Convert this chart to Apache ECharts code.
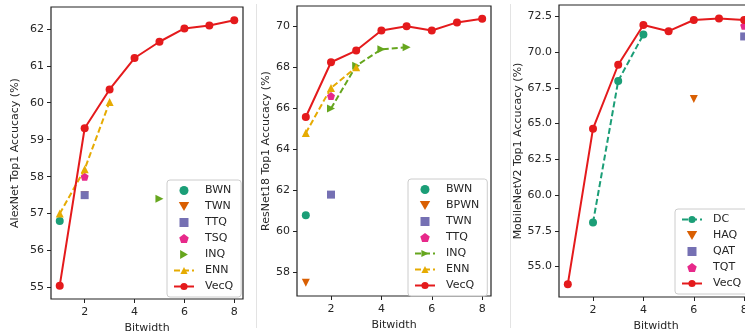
<!DOCTYPE html>
<html>
<head>
<meta charset="utf-8">
<script src="https://cdn.jsdelivr.net/npm/echarts@6/dist/echarts.min.js"></script>
<style>
  html, body { margin: 0; padding: 0; background: #fff; }
  #chart { width: 745px; height: 332px; }
</style>
</head>
<body>
<div id="chart"></div>
<script>
// bit widths shared by the VecQ curves
const bits = [1, 2, 3, 4, 5, 6, 7, 8]
const xTicks = [2, 4, 6, 8]

// AlexNet
const alexVecQ = [55.05, 59.31, 60.36, 61.21, 61.65, 62.01, 62.09, 62.23]
const alexEnnBits = [1, 2, 3]
const alexEnn = [57.0, 58.2, 60.02]
const alexBwn = [1, 56.8]
const alexTwn = [2, 57.5]
const alexTtq = [2, 57.5]
const alexTsq = [2, 58.0]
const alexInq = [5, 57.4]
const alexTicks = [55, 56, 57, 58, 59, 60, 61, 62]

// ResNet18
const resVecQ = [65.58, 68.25, 68.82, 69.8, 70.0, 69.8, 70.19, 70.37]
const resEnnBits = [1, 2, 3]
const resEnn = [64.8, 67.0, 68.0]
const resInqBits = [2, 3, 4, 5]
const resInq = [66.0, 68.08, 68.88, 68.98]
const resBwn = [1, 60.8]
const resBpwn = [1, 57.5]
const resTwn = [2, 61.8]
const resTtq = [2, 66.6]
const resTicks = [58, 60, 62, 64, 66, 68, 70]

// MobileNetV2
const mobVecQ = [53.77, 64.65, 69.12, 71.9, 71.47, 72.25, 72.36, 72.25]
const mobDcBits = [2, 3, 4]
const mobDc = [58.08, 67.99, 71.24]
const mobHaq = [6, 66.73]
const mobQat = [8, 71.1]
const mobTqt = [8, 71.85]
const mobTicks = [55, 57.5, 60, 62.5, 65, 67.5, 70, 72.5]

const C = {
  green: '#1b9e77',
  orange: '#d95f02',
  purple: '#7570b3',
  pink: '#e7298a',
  lime: '#66a61e',
  yellow: '#e6ab02',
  red: '#e41a1c',
}
const FONT = 'DejaVu Sans'
const TEXT = '#262626'
const PENTAGON = 'path://M0,-10 L9.51,-3.09 L5.88,8.09 L-5.88,8.09 L-9.51,-3.09 Z'
// legend icons as paths so they keep their aspect ratio
const ICON = {
  circle: 'path://M0,-10 A10,10 0 1,1 0,10 A10,10 0 1,1 0,-10 Z',
  square: 'path://M0,0 L10,0 L10,10 L0,10 Z',
  down: 'path://M-10,-8.66 L10,-8.66 L0,8.66 Z',
  right: 'path://M-8.66,-10 L8.66,0 L-8.66,10 Z',
  pentagon: PENTAGON,
}

function pts(xs, ys) {
  return xs.map((x, i) => [x, ys[i]])
}

function point(name, idx, p, color, symbol, extra) {
  return Object.assign({
    name, type: 'scatter', xAxisIndex: idx, yAxisIndex: idx,
    data: [p], symbol, symbolSize: 8,
    itemStyle: { color, opacity: 1 },
  }, extra || {})
}

function curve(name, idx, data, color, symbol, dashed, extra) {
  return Object.assign({
    name, type: 'line', xAxisIndex: idx, yAxisIndex: idx,
    data, symbol, symbolSize: 8,
    lineStyle: { color, width: 2, type: dashed ? [6, 3] : 'solid' },
    itemStyle: { color },
  }, extra || {})
}

const grids = [
  { left: 51, top: 7, width: 192, height: 292 },
  { left: 297, top: 6, width: 194, height: 290 },
  { left: 559, top: 5, width: 194, height: 292 },
]

const yInfo = [
  { min: 54.69, max: 62.59, ticks: alexTicks, name: 'AlexNet Top1 Accucacy (%)', gap: 30, fmt: v => String(v) },
  { min: 56.86, max: 70.99, ticks: resTicks, name: 'ResNet18 Top1 Accucacy (%)', gap: 25, fmt: v => String(v) },
  { min: 52.87, max: 73.3, ticks: mobTicks, name: 'MobileNetV2 Top1 Accucacy (%)', gap: 34, fmt: v => v.toFixed(1) },
]

const chart = echarts.init(document.getElementById('chart'))

chart.setOption({
  animation: false,
  textStyle: { fontFamily: FONT, color: TEXT },
  grid: grids.map(g => Object.assign({
    show: true, borderColor: '#222', borderWidth: 1.2, backgroundColor: 'transparent',
    outerBoundsMode: 'none', containLabel: false,
  }, g)),
  xAxis: grids.map((_, i) => ({
    type: 'value', gridIndex: i, min: 0.65, max: 8.35,
    name: 'Bitwidth', nameLocation: 'middle', nameGap: 22,
    nameTextStyle: { fontFamily: FONT, fontSize: 11, color: TEXT },
    axisLine: { show: false },
    axisTick: { show: true, length: 4, lineStyle: { color: '#222' }, customValues: xTicks },
    axisLabel: { fontFamily: FONT, fontSize: 11, color: TEXT, margin: 8, customValues: xTicks },
    splitLine: { show: false },
  })),
  yAxis: yInfo.map((y, i) => ({
    type: 'value', gridIndex: i, min: y.min, max: y.max,
    name: y.name, nameLocation: 'middle', nameGap: y.gap,
    nameTextStyle: { fontFamily: FONT, fontSize: 11, color: TEXT },
    axisLine: { show: false },
    axisTick: { show: true, length: 4, lineStyle: { color: '#222' }, customValues: y.ticks },
    axisLabel: { fontFamily: FONT, fontSize: 11, color: TEXT, margin: 7, customValues: y.ticks, formatter: y.fmt },
    splitLine: { show: false },
  })),
  legend: [
    {
      left: 167, top: 180,
      data: [
        { name: 'a:BWN', icon: ICON.circle },
        { name: 'a:TWN', icon: ICON.down },
        { name: 'a:TTQ', icon: ICON.square },
        { name: 'a:TSQ', icon: ICON.pentagon },
        { name: 'a:INQ', icon: ICON.right },
        'a:ENN', 'a:VecQ',
      ],
    },
    {
      left: 408, top: 179,
      data: [
        { name: 'r:BWN', icon: ICON.circle },
        { name: 'r:BPWN', icon: ICON.down },
        { name: 'r:TWN', icon: ICON.square },
        { name: 'r:TTQ', icon: ICON.pentagon },
        'r:INQ', 'r:ENN', 'r:VecQ',
      ],
    },
    {
      left: 675, top: 209,
      data: [
        'm:DC',
        { name: 'm:HAQ', icon: ICON.down },
        { name: 'm:QAT', icon: ICON.square },
        { name: 'm:TQT', icon: ICON.pentagon },
        'm:VecQ',
      ],
    },
  ].map(l => Object.assign({
    orient: 'vertical', selectedMode: false,
    itemWidth: 20, itemHeight: 9, itemGap: 5,
    padding: [5, 8, 5, 6],
    borderColor: '#ccc', borderWidth: 1, borderRadius: 3,
    backgroundColor: 'rgba(255,255,255,0.85)',
    textStyle: { fontFamily: FONT, fontSize: 11, color: TEXT, padding: [0, 0, 0, 6] },
    formatter: name => name.slice(name.indexOf(':') + 1),
  }, l)),
  graphic: [
    { type: 'line', shape: { x1: 256.5, y1: 4, x2: 256.5, y2: 328 }, style: { stroke: '#e3e3e3', lineWidth: 1 } },
    { type: 'line', shape: { x1: 510.5, y1: 4, x2: 510.5, y2: 328 }, style: { stroke: '#e3e3e3', lineWidth: 1 } },
  ],
  series: [
    // AlexNet
    point('a:BWN', 0, alexBwn, C.green, 'circle'),
    point('a:TWN', 0, alexTwn, C.orange, 'triangle', { symbolRotate: 180 }),
    point('a:TTQ', 0, alexTtq, C.purple, 'rect'),
    point('a:TSQ', 0, alexTsq, C.pink, PENTAGON),
    point('a:INQ', 0, alexInq, C.lime, 'triangle', { symbolRotate: -90 }),
    curve('a:ENN', 0, pts(alexEnnBits, alexEnn), C.yellow, 'triangle', true),
    curve('a:VecQ', 0, pts(bits, alexVecQ), C.red, 'circle', false, { z: 5 }),
    // ResNet18
    point('r:BWN', 1, resBwn, C.green, 'circle'),
    point('r:BPWN', 1, resBpwn, C.orange, 'triangle', { symbolRotate: 180 }),
    point('r:TWN', 1, resTwn, C.purple, 'rect'),
    point('r:TTQ', 1, resTtq, C.pink, PENTAGON),
    curve('r:INQ', 1, pts(resInqBits, resInq), C.lime, 'triangle', true, { symbolRotate: -90 }),
    curve('r:ENN', 1, pts(resEnnBits, resEnn), C.yellow, 'triangle', true),
    curve('r:VecQ', 1, pts(bits, resVecQ), C.red, 'circle', false, { z: 5 }),
    // MobileNetV2
    curve('m:DC', 2, pts(mobDcBits, mobDc), C.green, 'circle', true),
    point('m:HAQ', 2, mobHaq, C.orange, 'triangle', { symbolRotate: 180 }),
    point('m:QAT', 2, mobQat, C.purple, 'rect'),
    point('m:TQT', 2, mobTqt, C.pink, PENTAGON),
    curve('m:VecQ', 2, pts(bits, mobVecQ), C.red, 'circle', false, { z: 5 }),
  ],
})
</script>
</body>
</html>
